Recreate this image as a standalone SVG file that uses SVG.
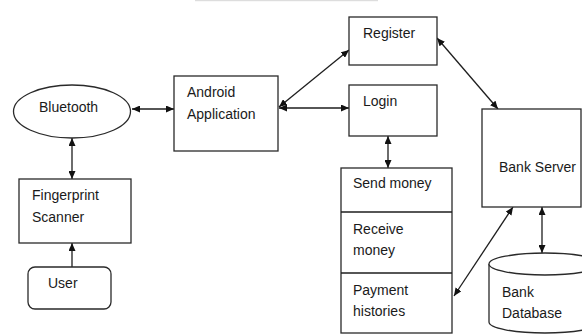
<svg xmlns="http://www.w3.org/2000/svg" width="582" height="334" viewBox="0 0 582 334">
<style>
.b{fill:#fff;stroke:#2a2a2a;stroke-width:1.3}
.t{font-family:"Liberation Sans",Arial,sans-serif;font-size:14px;fill:#1a1a1a}
.c{stroke:#1e1e1e;stroke-width:1.3;fill:none}
</style>
<defs>
<marker id="ah" viewBox="0 0 8 7" refX="8" refY="3.5" markerWidth="8" markerHeight="7" markerUnits="userSpaceOnUse" orient="auto-start-reverse">
<path d="M0,0 L8,3.5 L0,7 z" fill="#111"/>
</marker>
</defs>
<rect width="582" height="334" fill="#fff"/>
<rect x="195" y="0" width="183" height="1.2" fill="#ddd"/>
<g id="connectors">
<line class="c" x1="132" y1="109" x2="174" y2="109" marker-start="url(#ah)" marker-end="url(#ah)"/>
<line class="c" x1="72" y1="138" x2="72" y2="179" marker-start="url(#ah)" marker-end="url(#ah)"/>
<line class="c" x1="72" y1="267" x2="72" y2="243" marker-end="url(#ah)"/>
<line class="c" x1="279" y1="107" x2="349" y2="50" marker-start="url(#ah)" marker-end="url(#ah)"/>
<line class="c" x1="279" y1="108" x2="349" y2="108" marker-start="url(#ah)" marker-end="url(#ah)"/>
<line class="c" x1="437" y1="38" x2="498" y2="109" marker-start="url(#ah)" marker-end="url(#ah)"/>
<line class="c" x1="388" y1="136" x2="388" y2="168" marker-start="url(#ah)" marker-end="url(#ah)"/>
<line class="c" x1="454" y1="296" x2="513" y2="207" marker-start="url(#ah)" marker-end="url(#ah)"/>
<line class="c" x1="542" y1="207" x2="542" y2="253" marker-start="url(#ah)" marker-end="url(#ah)"/>
</g>
<g id="bluetooth">
<ellipse class="b" cx="72" cy="111.5" rx="58.5" ry="26.5"/>
<text class="t" x="39" y="112">Bluetooth</text>
</g>
<g id="android">
<rect class="b" x="174" y="76" width="104" height="75"/>
<text class="t" x="187" y="97">Android</text>
<text class="t" x="187" y="119">Application</text>
</g>
<g id="fingerprint">
<rect class="b" x="19" y="179" width="112" height="64"/>
<text class="t" x="32" y="200">Fingerprint</text>
<text class="t" x="32" y="222">Scanner</text>
</g>
<g id="user">
<rect class="b" x="28" y="267" width="83" height="42" rx="7"/>
<text class="t" x="48" y="288">User</text>
</g>
<g id="register">
<rect class="b" x="349" y="17" width="88" height="48"/>
<text class="t" x="363" y="38">Register</text>
</g>
<g id="login">
<rect class="b" x="349" y="85" width="88" height="51"/>
<text class="t" x="363" y="106">Login</text>
</g>
<g id="transactions">
<rect class="b" x="341" y="168" width="111" height="165"/>
<line class="c" x1="341" y1="212" x2="452" y2="212"/>
<line class="c" x1="341" y1="273" x2="452" y2="273"/>
<text class="t" x="353" y="188">Send money</text>
<text class="t" x="353" y="234">Receive</text>
<text class="t" x="353" y="255">money</text>
<text class="t" x="353" y="295">Payment</text>
<text class="t" x="353" y="316">histories</text>
</g>
<g id="bankserver">
<rect class="b" x="482" y="109" width="99" height="98"/>
<text class="t" x="499" y="172">Bank Server</text>
</g>
<g id="database">
<path class="b" d="M489,264 L489,322 A56,11 0 0,0 601,322 L601,264"/>
<ellipse class="b" cx="545" cy="264" rx="56" ry="11"/>
<text class="t" x="502" y="297">Bank</text>
<text class="t" x="502" y="318">Database</text>
</g>
</svg>
